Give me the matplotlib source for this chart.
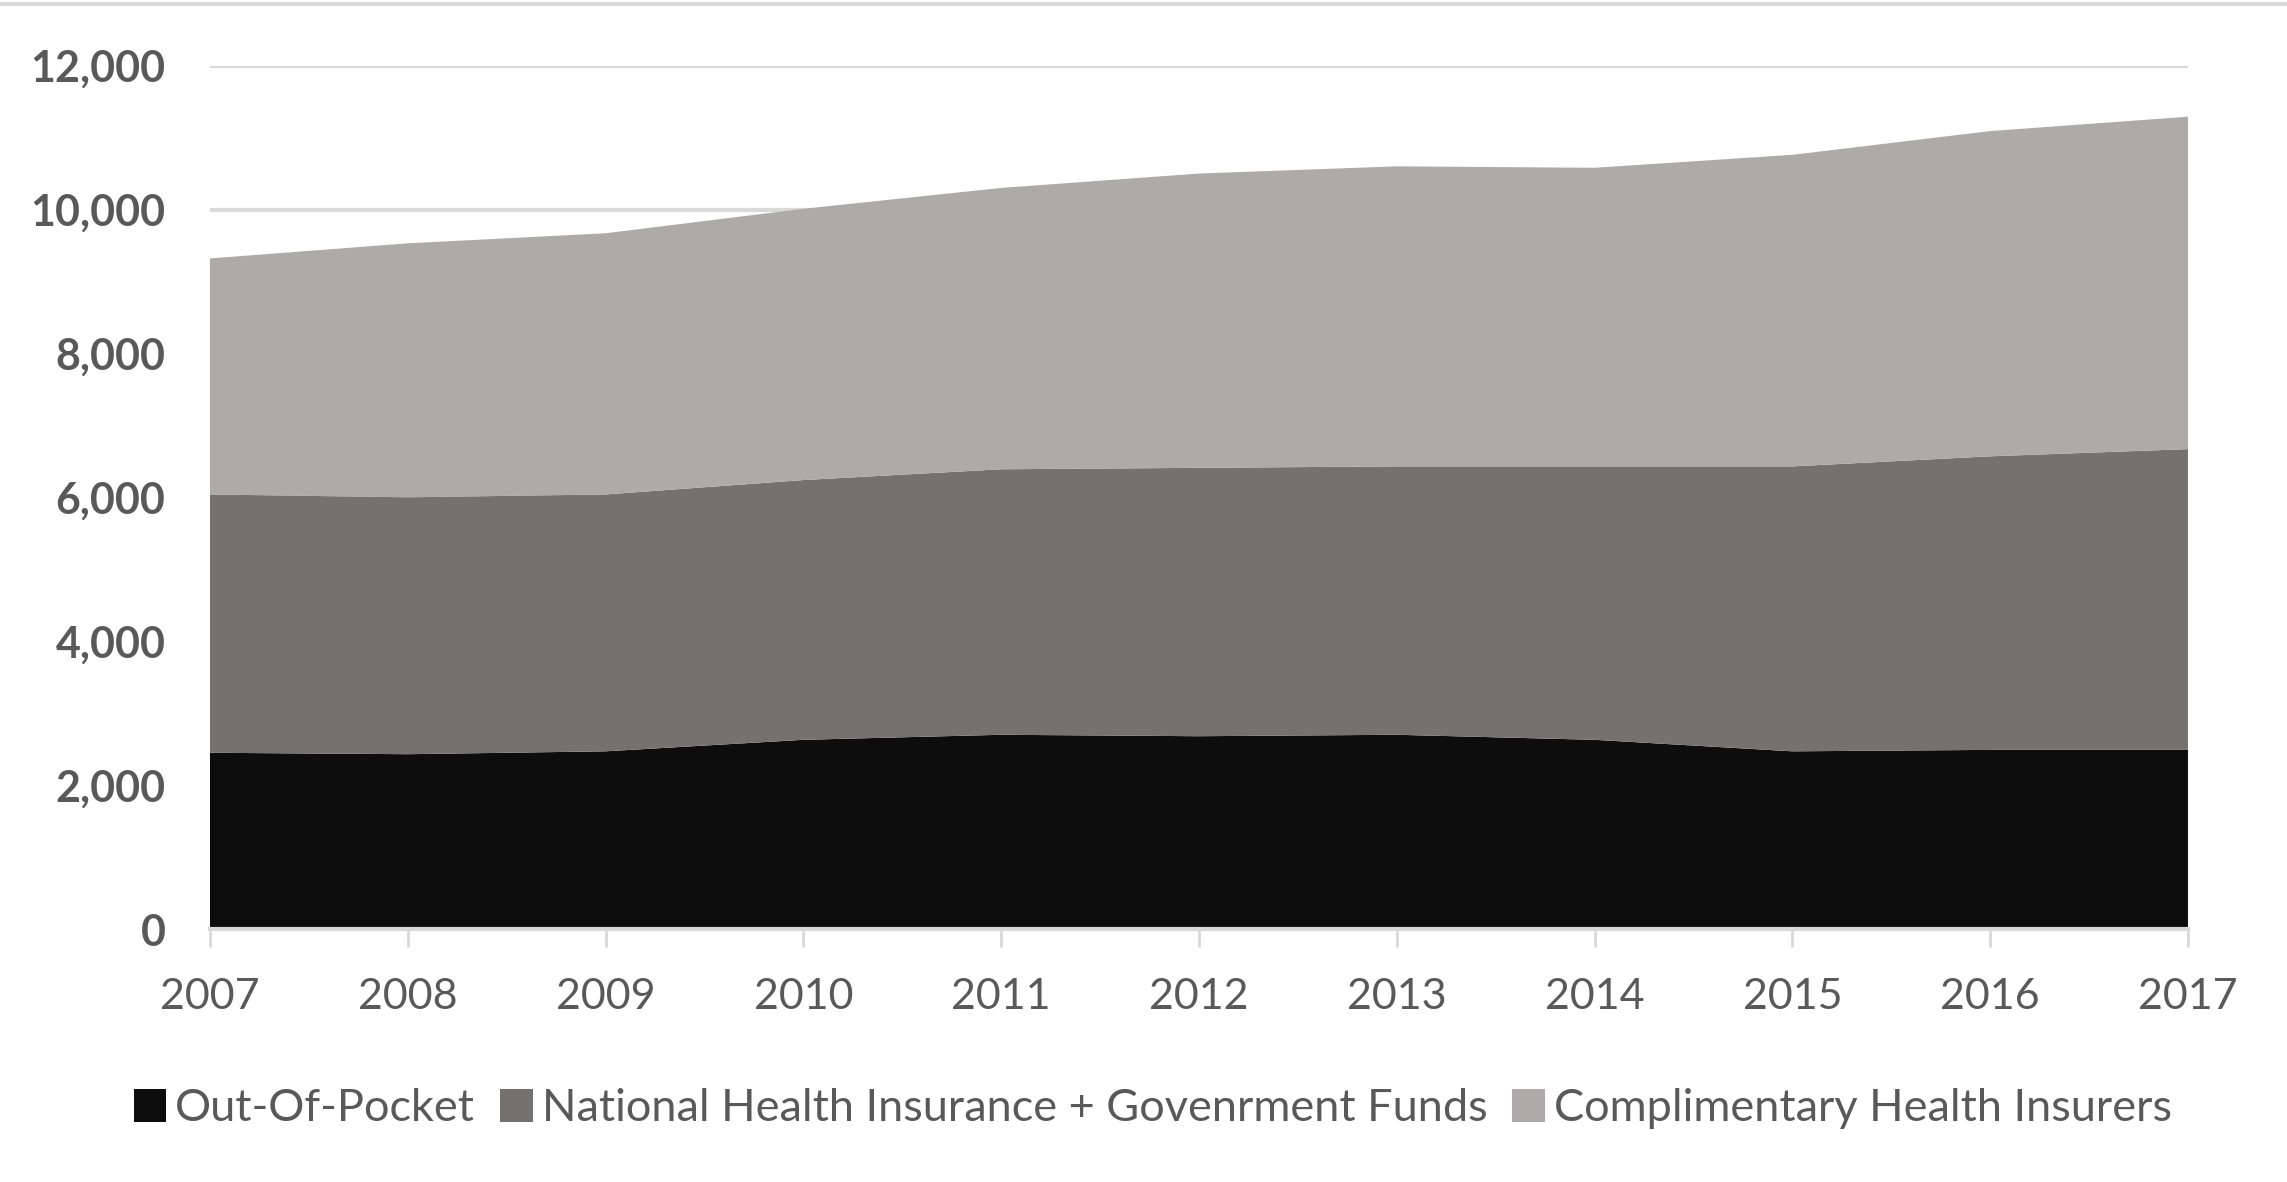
import matplotlib
matplotlib.use("Agg")
import matplotlib.pyplot as plt
from matplotlib.lines import Line2D
from matplotlib.patches import Patch
from matplotlib.ticker import FuncFormatter

years = [2007, 2008, 2009, 2010, 2011, 2012, 2013, 2014, 2015, 2016, 2017]
out_of_pocket = [2450, 2430, 2470, 2630, 2700, 2680, 2700, 2630, 2470, 2490, 2490]
national = [3590, 3570, 3570, 3610, 3690, 3730, 3730, 3800, 3960, 4080, 4180]
complimentary = [3280, 3530, 3630, 3770, 3910, 4090, 4170, 4150, 4330, 4520, 4620]

labels = ["Out-Of-Pocket", "National Health Insurance + Govenrment Funds",
          "Complimentary Health Insurers"]
colors = ["#0d0d0d", "#767171", "#aeaaaa"]

plt.rcParams['font.family'] = ['Lato', 'DejaVu Sans']
text_color = '#595959'

fig = plt.figure(figsize=(22.87, 11.82), dpi=100)
ax = fig.add_axes([0.0918, 0.214, 0.8649, 0.7305])

ax.stackplot(years, out_of_pocket, national, complimentary, colors=colors,
             linewidth=0, zorder=3)

ax.set_xlim(years[0], years[-1])
ax.set_ylim(0, 12000)
ax.set_yticks(range(0, 12001, 2000))
ax.yaxis.set_major_formatter(FuncFormatter(lambda v, p: f"{int(v):,}"))
ax.set_xticks(years)

ax.grid(axis='y', color='#d9d9d9', linewidth=3, zorder=0)
ax.set_axisbelow(True)
for side in ['top', 'right', 'left']:
    ax.spines[side].set_visible(False)
ax.spines['bottom'].set_color('#d9d9d9')
ax.spines['bottom'].set_linewidth(3)
ax.spines['bottom'].set_zorder(4)

ax.tick_params(axis='y', length=0, pad=32, labelsize=31, labelcolor=text_color)
ax.tick_params(axis='x', length=13, width=2, color='#d9d9d9', pad=22,
               labelsize=31, labelcolor=text_color)
for t in ax.get_yticklabels():
    t.set_fontweight('bold')

handles = [Patch(facecolor=c, edgecolor='none') for c in colors]
fig.legend(handles, labels, loc='center', bbox_to_anchor=(0.504, 0.062),
           ncol=3, frameon=False, fontsize=32.5, labelcolor=text_color,
           handlelength=0.72, handleheight=0.72, handletextpad=0.2,
           columnspacing=0.55)

fig.add_artist(Line2D([0, 1], [0.9966, 0.9966], color='#d9d9d9', linewidth=3,
                      transform=fig.transFigure))

fig.savefig("out.png", dpi=100, facecolor='white')
